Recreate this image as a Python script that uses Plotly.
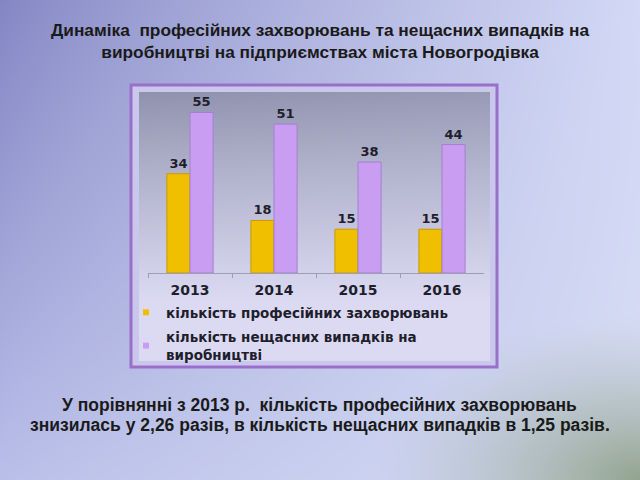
import base64, struct, zlib
import plotly.graph_objects as go

# ---------------- data ----------------
years = ["2013", "2014", "2015", "2016"]
diseases = [34, 18, 15, 15]
accidents = [55, 51, 38, 44]
name_diseases = "кількість професійних захворювань"
name_accidents = "кількість нещасних випадків на<br>виробництві"
title_text = ("Динаміка  професійних захворювань та нещасних випадків на<br>"
              "виробництві на підприємствах міста Новогродівка")
note_line1 = "У порівнянні з 2013 р.  кількість професійних захворювань"
note_line2 = "знизилась у 2,26 разів, в кількість нещасних випадків в 1,25 разів."

W, H = 640, 480
YELLOW, PURPLE = "#f0c000", "#c99ef2"

# ---------------- background picture (style only) ----------------
def hexrgb(h):
    h = h.lstrip("#")
    return [int(h[i:i + 2], 16) for i in (0, 2, 4)]

def lerp(a, b, t):
    return [a[i] + (b[i] - a[i]) * t for i in range(3)]

TL, TR, BL, BR = hexrgb("#8385c3"), hexrgb("#d2d8f5"), hexrgb("#b9bee9"), hexrgb("#d5dcf3")
GREEN = hexrgb("#93a48f")
PANEL = hexrgb("#c9c8ec")
IN_TOP, IN_BOT = hexrgb("#8f92ad"), hexrgb("#dcdaf3")
ox0, oy0, ox1, oy1 = 131, 85, 497, 367
ix0, iy0, ix1, iy1 = 139, 92, 490, 361

rows = []
for y in range(H):
    v = y / (H - 1)
    row = bytearray(b"\x00")
    left = lerp(TL, BL, v)
    right = lerp(TR, BR, v)
    for x in range(W):
        if ix0 <= x < ix1 and iy0 <= y < iy1:
            t = min(1.0, max(0.0, (y - iy0) / 210.0))
            c = lerp(IN_TOP, IN_BOT, t ** 0.9)
            s = (x - ix0) / (ix1 - ix0)
            c = [ci + 8 * s * (1 - t) for ci in c]
        elif ox0 <= x < ox1 and oy0 <= y < oy1:
            c = PANEL
        else:
            u = x / (W - 1)
            c = lerp(left, right, u ** 0.8)
            d = ((1 - u) ** 2 + ((1 - v) * 1.2) ** 2) ** 0.5
            w = max(0.0, 1 - d / 0.42) ** 1.4
            c = lerp(c, GREEN, w)
        row += bytes(max(0, min(255, int(round(ci)))) for ci in c)
    rows.append(bytes(row))

def chunk(tag, data):
    return struct.pack(">I", len(data)) + tag + data + struct.pack(">I", zlib.crc32(tag + data) & 0xffffffff)

png = (b"\x89PNG\r\n\x1a\n"
       + chunk(b"IHDR", struct.pack(">IIBBBBB", W, H, 8, 2, 0, 0, 0))
       + chunk(b"IDAT", zlib.compress(b"".join(rows), 9))
       + chunk(b"IEND", b""))
bg_uri = "data:image/png;base64," + base64.b64encode(png).decode()

# ---------------- figure ----------------
label_font = dict(family="DejaVu Sans", size=13, color="#1e1e2c", weight="bold")

fig = go.Figure()
fig.add_trace(go.Bar(
    x=years, y=diseases, name=name_diseases, showlegend=False,
    marker=dict(color=YELLOW, line=dict(color="#c89a00", width=1)),
    text=diseases, textposition="outside", textfont=label_font,
    cliponaxis=False,
))
fig.add_trace(go.Bar(
    x=years, y=accidents, name=name_accidents, showlegend=False,
    marker=dict(color=PURPLE, line=dict(color="#a47ed0", width=1)),
    text=accidents, textposition="outside", textfont=label_font,
    cliponaxis=False,
))
# legend keys (small square markers as in the original)
fig.add_trace(go.Scatter(x=[None], y=[None], mode="markers", name=name_diseases,
                         marker=dict(symbol="square", size=6, color=YELLOW),
                         legendgroup="a"))
fig.add_trace(go.Scatter(x=[None], y=[None], mode="markers", name=name_accidents,
                         marker=dict(symbol="square", size=6, color=PURPLE),
                         legendgroup="b"))

fig.update_layout(
    width=W, height=H,
    margin=dict(l=0, r=0, t=0, b=0),
    paper_bgcolor="#b8bce6",
    plot_bgcolor="rgba(0,0,0,0)",
    barmode="group", bargap=0.45, bargroupgap=0.0,
    showlegend=True,
    legend=dict(
        x=126 / W, y=1 - 297 / H, xanchor="left", yanchor="top",
        bgcolor="rgba(0,0,0,0)", traceorder="grouped", tracegroupgap=4,
        font=dict(family="DejaVu Sans", size=13.5, color="#1e1e2c", weight="bold"),
        itemwidth=30,
    ),
    xaxis=dict(
        domain=[148 / W, 484 / W],
        showline=True, linecolor="#9d9db4", linewidth=1,
        ticks="outside", tickson="boundaries", ticklen=4, tickcolor="#9d9db4",
        ticklabelstandoff=4,
        tickfont=dict(family="DejaVu Sans", size=14, color="#1e1e2c", weight="bold"),
        showgrid=False, fixedrange=True,
    ),
    yaxis=dict(
        domain=[1 - 273 / H, 1 - 92 / H], range=[0, 62],
        visible=False, showgrid=False, fixedrange=True,
    ),
    images=[dict(source=bg_uri, xref="paper", yref="paper", x=0, y=1,
                 sizex=1, sizey=1, xanchor="left", yanchor="top",
                 sizing="stretch", layer="below")],
    shapes=[dict(type="rect", xref="paper", yref="paper",
                 x0=131 / W, x1=497 / W, y0=1 - 367 / H, y1=1 - 85 / H,
                 line=dict(color="#9a6fc9", width=3), fillcolor="rgba(0,0,0,0)",
                 layer="below")],
    annotations=[
        dict(text=title_text, xref="paper", yref="paper", x=320 / W, y=1 - 41 / H,
             xanchor="center", yanchor="middle", showarrow=False, align="center",
             font=dict(family="Liberation Sans", size=17.3, color="#1a1a1a", weight="bold")),
        dict(text=note_line1, xref="paper", yref="paper", x=319 / W, y=1 - 405 / H,
             xanchor="center", yanchor="middle", showarrow=False,
             font=dict(family="Liberation Sans", size=17.5, color="#1a1a1a", weight="bold")),
        dict(text=note_line2, xref="paper", yref="paper", x=320 / W, y=1 - 425 / H,
             xanchor="center", yanchor="middle", showarrow=False,
             font=dict(family="Liberation Sans", size=17.5, color="#1a1a1a", weight="bold")),
    ],
)

fig.write_html("out.html")
